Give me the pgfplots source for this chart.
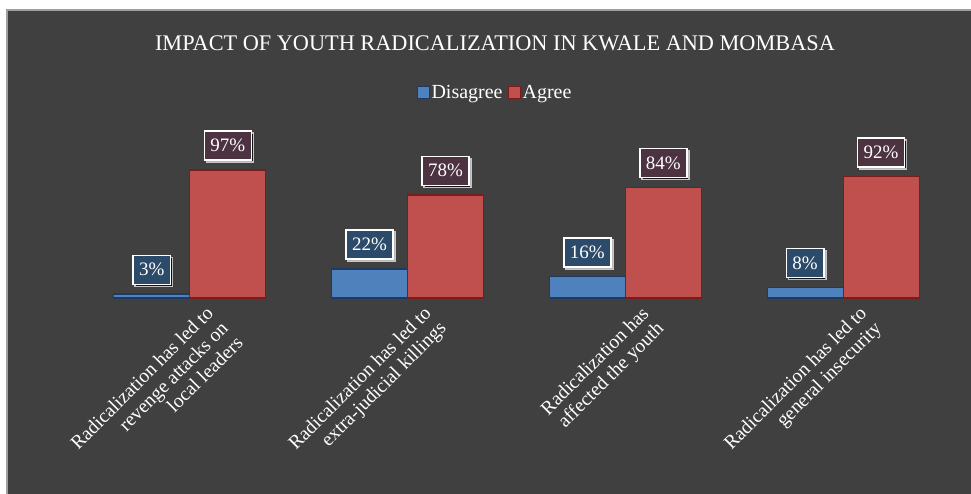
\documentclass[border=0pt]{standalone}
\usepackage{fontspec}
\setmainfont{Liberation Serif}
\usepackage{pgfplots}
\pgfplotsset{compat=1.18}
\usetikzlibrary{shadows}
\definecolor{bg}{HTML}{404040}
\definecolor{dis}{HTML}{4F81BD}
\definecolor{disb}{HTML}{1F3A60}
\definecolor{agr}{HTML}{C0504D}
\definecolor{agrb}{HTML}{7A1C1C}
\definecolor{disl}{HTML}{2C4A69}
\definecolor{agrl}{HTML}{4D3242}
\newcommand{\tl}[1]{\begin{tabular}{@{}r@{}}#1\end{tabular}}
\begin{document}
\begin{tikzpicture}[x=1pt,y=1pt]
\fill[white] (0,0) rectangle (971,494);
\fill[bg] (7,0) rectangle (971,484);
\draw[gray!75, line width=1.8pt] (7,0) -- (7,484) -- (971,484);
\node[text=white, font=\fontsize{22.3}{26}\selectfont] at (495,451) {IMPACT OF YOUTH RADICALIZATION IN KWALE AND MOMBASA};
\begin{axis}[
  at={(81pt,196pt)}, anchor=south west,
  scale only axis, width=871pt, height=132pt,
  ybar=0pt, bar width=76pt,
  xmin=-0.5, xmax=3.5, ymin=0, ymax=100,
  clip=false,
  axis line style={draw=none},
  ytick=\empty,
  xtick={0,1,2,3},
  xticklabels={{\tl{Radicalization has led to\\revenge attacks on\\local leaders}},
               {\tl{Radicalization has led to\\extra-judicial killings}},
               {\tl{Radicalization has\\affected the youth}},
               {\tl{Radicalization has led to\\general insecurity}}},
  major tick length=0pt,
  xticklabel style={xshift=14pt, yshift=-6pt, rotate=45, anchor=north east,
     inner sep=0pt, text=white, font=\fontsize{19.5}{21}\selectfont},
  nodes near coords={\pgfmathprintnumber[assume math mode=true]{\pgfplotspointmeta}\%},
  every node near coord/.append style={anchor=south, yshift=9pt, text=white,
     draw=white, line width=1.5pt, inner xsep=6pt, minimum height=29pt,
     font=\fontsize{19}{21}\selectfont,
     drop shadow={shadow xshift=2pt, shadow yshift=-2pt, fill=black, opacity=0.7}},
  legend style={at={(0.4753,1.553)}, anchor=center, draw=none, fill=none,
     text=white, font=\fontsize{20}{22}\selectfont, legend columns=2,
     /tikz/every even column/.append style={column sep=3pt}},
  legend image code/.code={\draw[#1, line width=1pt] (0pt,-6pt) rectangle (12pt,6pt);},
]
\addplot[fill=dis, draw=disb, line width=1.2pt,
  every node near coord/.append style={fill=disl}]
  coordinates {(0,3) (1,22) (2,16) (3,8)};
\addplot[fill=agr, draw=agrb, line width=1.2pt,
  every node near coord/.append style={fill=agrl}]
  coordinates {(0,97) (1,78) (2,84) (3,92)};
\legend{Disagree, Agree}
\end{axis}
\pgfresetboundingbox
\useasboundingbox (0,0) rectangle (971,494);
\end{tikzpicture}
\end{document}
